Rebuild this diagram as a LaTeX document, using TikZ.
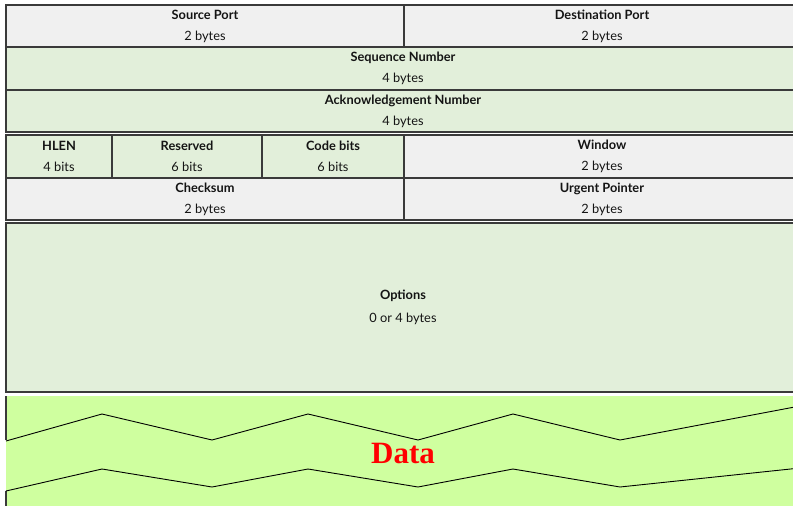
\documentclass[tikz,border=0pt]{standalone}
\usepackage{fontspec}
\setmainfont{Lato}
\newfontfamily\serifbold{Liberation Serif}
\definecolor{cellgray}{HTML}{F0F0F0}
\definecolor{cellgreen}{HTML}{E2EFDA}
\definecolor{datagreen}{HTML}{CFFF9F}
\definecolor{rule}{HTML}{3A3A3A}
\begin{document}
\begin{tikzpicture}[x=1pt,y=-1pt,
  field/.style={draw=rule, line width=1.2pt, anchor=north west, inner sep=0pt, outer sep=0pt,
    align=center, font=\fontsize{12.8}{21}\selectfont, text=black!92},
  grayfield/.style={field, fill=cellgray},
  greenfield/.style={field, fill=cellgreen},
  zig/.style={draw=black, line width=0.9pt},
  datalabel/.style={font=\serifbold\bfseries\fontsize{31}{31}\selectfont, text=red}]
\useasboundingbox (0,0) rectangle (793,506);
\fill[white] (0,0) rectangle (793,506);

% first block: ports, sequence and acknowledgement numbers
\node[grayfield, minimum width=398pt, minimum height=42pt] (src) at (6,5) {\textbf{Source Port}\\2 bytes};
\node[grayfield, minimum width=396pt, minimum height=42pt] (dst) at (404,5) {\textbf{Destination Port}\\2 bytes};
\node[greenfield, minimum width=794pt, minimum height=43pt] (seq) at (6,47) {\textbf{Sequence Number}\\4 bytes};
\node[greenfield, minimum width=794pt, minimum height=42pt] (ack) at (6,90) {\textbf{Acknowledgement Number}\\4 bytes};

% second block: header length, flags, window, checksum, urgent pointer
\node[greenfield, minimum width=106pt, minimum height=43pt] (hlen) at (6,135) {\textbf{HLEN}\\4 bits};
\node[greenfield, minimum width=150pt, minimum height=43pt] (res) at (112,135) {\textbf{Reserved}\\6 bits};
\node[greenfield, minimum width=142pt, minimum height=43pt] (code) at (262,135) {\textbf{Code bits}\\6 bits};
\node[grayfield, minimum width=396pt, minimum height=43pt] (win) at (404,135) {\textbf{Window}\\2 bytes};
\node[grayfield, minimum width=398pt, minimum height=42pt] (chk) at (6,178) {\textbf{Checksum}\\2 bytes};
\node[grayfield, minimum width=396pt, minimum height=42pt] (urg) at (404,178) {\textbf{Urgent Pointer}\\2 bytes};

% options
\node[greenfield, minimum width=794pt, minimum height=169pt, font=\fontsize{12.8}{23}\selectfont] (opt) at (6,223) {\textbf{Options}\\0 or 4 bytes};

% data area with torn edges
\fill[datagreen] (6,396) rectangle (800,506);
\draw[rule, line width=1.2pt] (6,396) -- (6,440) (6,491) -- (6,506);
\draw[zig] (6,441) -- (102,414) -- (212,440) -- (308,414) -- (418,440) -- (513,414) -- (620,440) -- (800,406);
\draw[zig] (6,491) -- (102,469) -- (212,487) -- (308,469) -- (418,487) -- (513,469) -- (620,487) -- (800,468);
\node[datalabel] (data) at (403,453) {Data};
\end{tikzpicture}
\end{document}
